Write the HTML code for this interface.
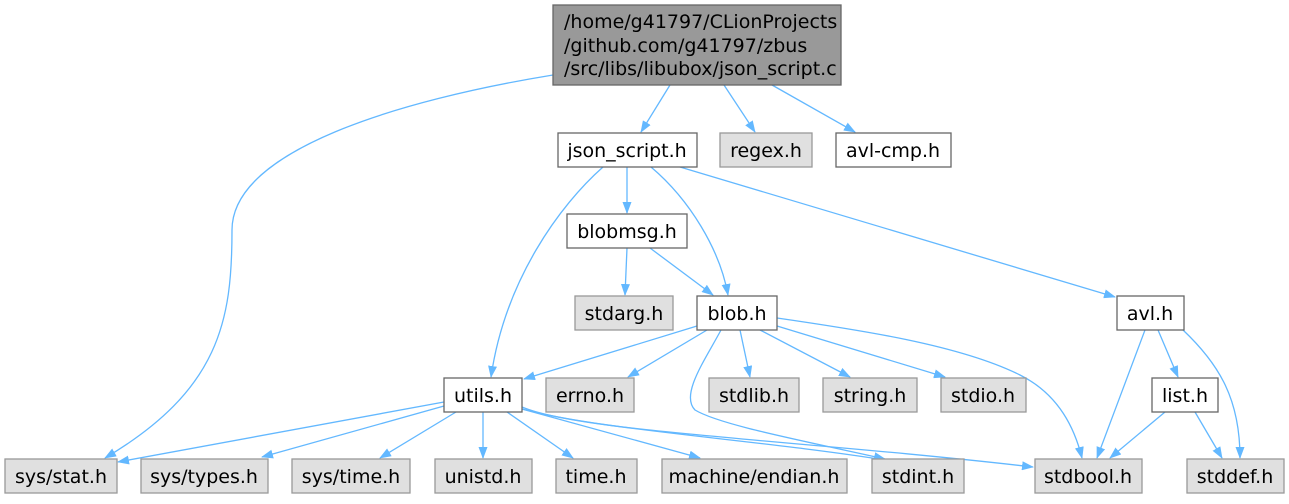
<!DOCTYPE html>
<html><head><meta charset="utf-8"><style>
body{margin:0;background:#fff;}
svg text{font-family:"DejaVu Sans","Liberation Sans",sans-serif;font-size:19px;text-anchor:middle;fill:#000;}
.w{fill:#fff;stroke:#666;stroke-width:1.3}
.g{fill:#e0e0e0;stroke:#999;stroke-width:1.3}
.m{fill:#999;stroke:#666;stroke-width:1.3}
.e{fill:none;stroke:#63b8ff;stroke-width:1.3;marker-end:url(#a)}
</style></head><body>
<svg width="1289" height="499" viewBox="0 0 1289 499" xmlns="http://www.w3.org/2000/svg">
<defs><marker id="a" markerWidth="12" markerHeight="9" refX="11" refY="4.5" orient="auto" markerUnits="userSpaceOnUse"><path d="M0,0 L12,4.5 L0,9 z" fill="#63b8ff"/></marker></defs>
<path class="e" d="M553,75 C400,100 232,150 232,230 C232,320 220,390 105,458"/>
<path class="e" d="M670,85 L641,132"/>
<path class="e" d="M724,85 L755,132"/>
<path class="e" d="M772,85 L855,132"/>
<path class="e" d="M627,167 L627,213"/>
<path class="e" d="M603,167 C560,205 505,280 491,377"/>
<path class="e" d="M651,167 C690,200 720,250 728,295"/>
<path class="e" d="M680,167 L1115,297"/>
<path class="e" d="M627,248 L625,295"/>
<path class="e" d="M650,248 L713,295"/>
<path class="e" d="M697,326 L524,379"/>
<path class="e" d="M707,330 L628,377"/>
<path class="e" d="M721,330 C705,360 680,395 695,410 C720,425 800,440 885,459"/>
<path class="e" d="M740,330 L750,377"/>
<path class="e" d="M760,330 L850,377"/>
<path class="e" d="M777,326 L945,377"/>
<path class="e" d="M777,318 C860,330 960,345 1020,375 C1060,395 1075,430 1082,458"/>
<path class="e" d="M1145,330 L1097,458"/>
<path class="e" d="M1158,330 L1178,377"/>
<path class="e" d="M1183,330 C1220,365 1240,400 1240,458"/>
<path class="e" d="M1165,412 L1110,458"/>
<path class="e" d="M1195,412 L1222,458"/>
<path class="e" d="M444,402 L118,462"/>
<path class="e" d="M444,406 L262,457"/>
<path class="e" d="M456,412 L380,458"/>
<path class="e" d="M483,412 L483,458"/>
<path class="e" d="M507,412 L573,458"/>
<path class="e" d="M522,409 L700,458"/>
<path class="e" d="M522,409 C600,430 760,440 885,460"/>
<path class="e" d="M522,407 C580,432 800,440 1033,467"/>
<rect class="m" x="553" y="5" width="288" height="80"/>
<text x="564" y="28" style="text-anchor:start">/home/g41797/CLionProjects</text>
<text x="564" y="52" style="text-anchor:start">/github.com/g41797/zbus</text>
<text x="564" y="75" style="text-anchor:start">/src/libs/libubox/json_script.c</text>
<rect class="w" x="558" y="133" width="139" height="34"/><text x="627" y="157">json_script.h</text>
<rect class="g" x="720" y="133" width="92" height="34"/><text x="766" y="157">regex.h</text>
<rect class="w" x="836" y="133" width="115" height="34"/><text x="893" y="157">avl-cmp.h</text>
<rect class="w" x="567" y="214" width="120" height="34"/><text x="627" y="238">blobmsg.h</text>
<rect class="g" x="575" y="296" width="98" height="34"/><text x="624" y="320">stdarg.h</text>
<rect class="w" x="697" y="296" width="80" height="34"/><text x="737" y="320">blob.h</text>
<rect class="w" x="1117" y="296" width="67" height="34"/><text x="1150" y="320">avl.h</text>
<rect class="w" x="444" y="378" width="78" height="34"/><text x="483" y="402">utils.h</text>
<rect class="g" x="546" y="378" width="88" height="34"/><text x="590" y="402">errno.h</text>
<rect class="g" x="709" y="378" width="90" height="34"/><text x="754" y="402">stdlib.h</text>
<rect class="g" x="823" y="378" width="94" height="34"/><text x="870" y="402">string.h</text>
<rect class="g" x="941" y="378" width="85" height="34"/><text x="983" y="402">stdio.h</text>
<rect class="w" x="1152" y="378" width="66" height="34"/><text x="1185" y="402">list.h</text>
<rect class="g" x="5" y="459" width="112" height="34"/><text x="61" y="483">sys/stat.h</text>
<rect class="g" x="141" y="459" width="127" height="34"/><text x="204" y="483">sys/types.h</text>
<rect class="g" x="292" y="459" width="118" height="34"/><text x="351" y="483">sys/time.h</text>
<rect class="g" x="435" y="459" width="97" height="34"/><text x="483" y="483">unistd.h</text>
<rect class="g" x="556" y="459" width="81" height="34"/><text x="596" y="483">time.h</text>
<rect class="g" x="662" y="459" width="185" height="34"/><text x="754" y="483">machine/endian.h</text>
<rect class="g" x="872" y="459" width="92" height="34"/><text x="918" y="483">stdint.h</text>
<rect class="g" x="1035" y="459" width="107" height="34"/><text x="1088" y="483">stdbool.h</text>
<rect class="g" x="1187" y="459" width="97" height="34"/><text x="1235" y="483">stddef.h</text>
</svg>
</body></html>
